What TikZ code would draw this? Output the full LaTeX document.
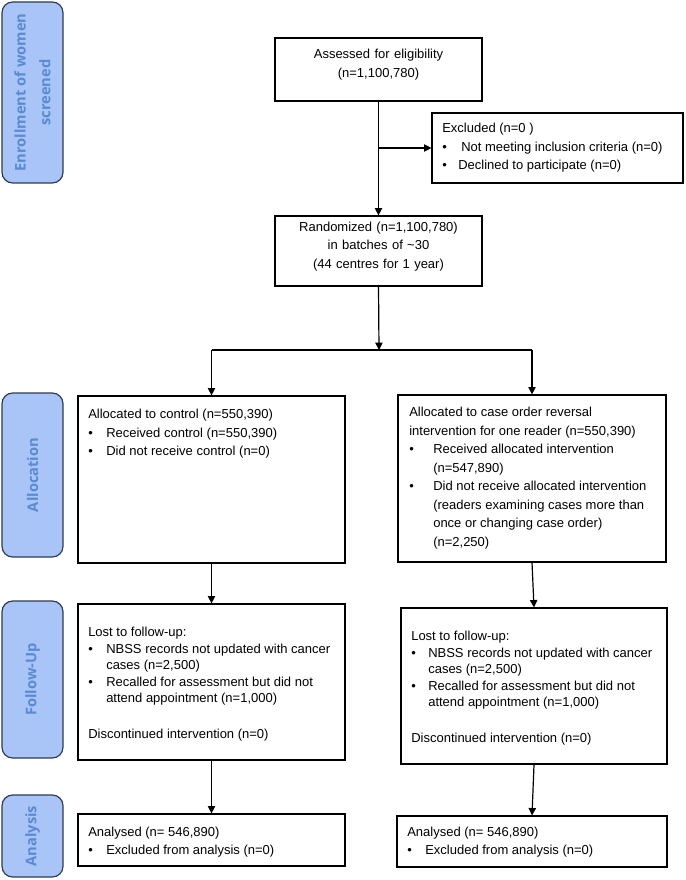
\documentclass[tikz,border=0pt]{standalone}
\usepackage{fontspec}
\setmainfont{Liberation Sans}
\newfontfamily\sidefont{Open Sans}
\usetikzlibrary{arrows.meta,fit}
\newdimen\pxu \pxu=0.75pt
\newcommand{\bl}[1]{\makebox[#1\pxu][l]{•}}
\newcommand{\ind}[1]{\hspace*{#1\pxu}}
\definecolor{sidefill}{HTML}{A9C5F7}
\definecolor{sidedraw}{HTML}{2E3B52}
\definecolor{sidetext}{HTML}{5A8AD2}
\begin{document}
\begin{tikzpicture}[x=0.75pt,y=-0.75pt,
  box/.style={draw=black, line width=0.9pt, inner sep=0pt, fill=white},
  side/.style={draw=sidedraw, fill=sidefill, rounded corners=8pt, line width=0.9pt, inner sep=0pt},
  sidetxt/.style={rotate=90, text=sidetext, font=\sidefont\bfseries\fontsize{11}{18.5}\selectfont, align=center, inner sep=0pt},
  txt/.style={font=\fontsize{9.75}{13.9}\selectfont, align=left, inner sep=0pt},
  ctxt/.style={font=\fontsize{9.75}{13.9}\selectfont, align=center},
  ftxt/.style={font=\fontsize{9.75}{12.4}\selectfont, align=left, inner sep=0pt},
  arr/.style={-{Triangle[length=5.5pt,width=5.5pt]}, line width=0.9pt},
  ln/.style={line width=0.9pt}]
\useasboundingbox (0,0) rectangle (685,880);

% side labels
\node[side, fit={(2,2) (63,183)}] (s1) {};
\node[sidetxt] (s1t) at (s1.center) {Enrollment of women\\screened};
\node[side, fit={(2,393) (63,557)}] (s2) {};
\node[sidetxt] (s2t) at (s2.center) {Allocation};
\node[side, fit={(2,601) (63,758)}] (s3) {};
\node[sidetxt] (s3t) at (s3.center) {Follow-Up};
\node[side, fit={(2,795) (63,877)}] (s4) {};
\node[sidetxt] (s4t) at (s4.center) {Analysis};

% top
\node[box, fit={(275,38) (482,101)}, ctxt] (assess) {Assessed for eligibility\\(n=1,100,780)};
\node[box, fit={(432,113) (683,183)}] (excl) {};
\node[txt, anchor=north west] (exclt) at (442,123) {Excluded (n=0 )\\
\bl{19}Not meeting inclusion criteria (n=0)\\
\bl{16}Declined to participate (n=0)};
\node[box, fit={(275,216) (482,286)}, ctxt] (rand) {Randomized (n=1,100,780)\\in batches of \textasciitilde30\\(44 centres for 1 year)};

% allocation
\node[box, fit={(78,396) (345,563)}] (al1) {};
\node[txt, anchor=north west] (al1t) at (88,409) {Allocated to control (n=550,390)\\
\bl{18}Received control (n=550,390)\\
\bl{18}Did not receive control (n=0)};
\node[box, fit={(398,395) (666,562)}] (al2) {};
\node[txt, anchor=north west] (al2t) at (409,407) {Allocated to case order reversal\\
intervention for one reader (n=550,390)\\
\bl{24}Received allocated intervention\\
\ind{24}(n=547,890)\\
\bl{24}Did not receive allocated intervention\\
\ind{24}(readers examining cases more than\\
\ind{24}once or changing case order)\\
\ind{24}(n=2,250)};

% follow-up
\node[box, fit={(78,604) (345,760)}] (fu1) {};
\node[ftxt, anchor=north west] (fu1t) at (88,627) {Lost to follow-up:\\
\bl{18}NBSS records not updated with cancer\\
\ind{18}cases (n=2,500)\\
\bl{18}Recalled for assessment but did not\\
\ind{18}attend appointment (n=1,000)\\[14.5pt]
Discontinued intervention (n=0)};
\node[box, fit={(401,608) (667,764)}] (fu2) {};
\node[ftxt, anchor=north west] (fu2t) at (411,631) {Lost to follow-up:\\
\bl{17}NBSS records not updated with cancer\\
\ind{17}cases (n=2,500)\\
\bl{17}Recalled for assessment but did not\\
\ind{17}attend appointment (n=1,000)\\[14.5pt]
Discontinued intervention (n=0)};

% analysis
\node[box, fit={(78,814) (345,866)}] (an1) {};
\node[txt, anchor=north west, font=\fontsize{9.75}{13}\selectfont] (an1t) at (88,827) {Analysed (n= 546,890)\\
\bl{18}Excluded from analysis (n=0)};
\node[box, fit={(397,816) (667,867)}] (an2) {};
\node[txt, anchor=north west, font=\fontsize{9.75}{13}\selectfont] (an2t) at (407,827) {Analysed (n= 546,890)\\
\bl{18}Excluded from analysis (n=0)};

% connectors
\draw[arr] (assess.south) -- (rand.north);
\coordinate (br) at (assess.south |- excl.west);
\draw[arr] (br) -- (excl.west);
\coordinate (split) at (379,350);
\draw[arr] (rand.south) -- (split);
\coordinate (sl) at (al1.north |- split);
\coordinate (sr) at (al2.north |- split);
\draw[ln] (sl) -- (sr);
\draw[arr] (sl) -- (al1.north);
\draw[arr] (sr) -- (al2.north);
\draw[arr] (al1.south) -- (fu1.north);
\draw[arr] (al2.south) -- (fu2.north);
\draw[arr] (fu1.south) -- (an1.north);
\draw[arr] (fu2.south) -- (an2.north);
\end{tikzpicture}
\end{document}
